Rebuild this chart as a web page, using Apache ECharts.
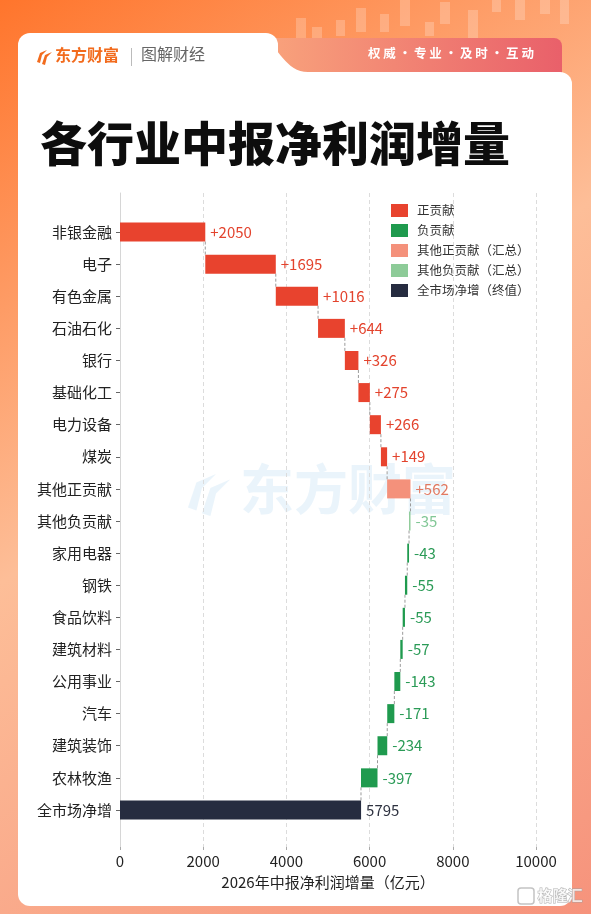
<!DOCTYPE html>
<html>
<head>
<meta charset="utf-8">
<script src="https://cdn.jsdelivr.net/npm/echarts@6/dist/echarts.min.js"></script>
<style>
  html, body { margin: 0; padding: 0; background: #fff; }
  #chart { width: 591px; height: 914px; }
</style>
</head>
<body>
<div id="chart"></div>
<script>
// ---------- data ----------
const categories = ['非银金融','电子','有色金属','石油石化','银行','基础化工','电力设备','煤炭','其他正贡献','其他负贡献','家用电器','钢铁','食品饮料','建筑材料','公用事业','汽车','建筑装饰','农林牧渔','全市场净增'];
const changes = [2050, 1695, 1016, 644, 326, 275, 266, 149, 562, -35, -43, -55, -55, -57, -143, -171, -234, -397];
const totalValue = 5795;
const xTicks = [0, 2000, 4000, 6000, 8000, 10000];
const seriesNames = ['正贡献', '负贡献', '其他正贡献（汇总）', '其他负贡献（汇总）', '全市场净增（终值）'];
const titleText = '各行业中报净利润增量';
const xAxisName = '2026年中报净利润增量（亿元）';

// ---------- build waterfall ----------
const FONT = '"Noto Sans CJK SC", "Noto Sans", sans-serif';
const n = categories.length;
const base = [], pos = [], neg = [], oPos = [], oNeg = [], tot = [], connectors = [];
let cum = 0;
for (let i = 0; i < n; i++) {
  if (i < changes.length) {
    const v = changes[i];
    const before = cum;
    cum += v;
    const isOther = categories[i].indexOf('其他') === 0;
    base.push(v >= 0 ? before : cum);
    pos.push(!isOther && v >= 0 ? v : '-');
    neg.push(!isOther && v < 0 ? -v : '-');
    oPos.push(isOther && v >= 0 ? v : '-');
    oNeg.push(isOther && v < 0 ? -v : '-');
    tot.push('-');
    connectors.push([cum, i]);
  } else {
    base.push(0);
    pos.push('-'); neg.push('-'); oPos.push('-'); oNeg.push('-');
    tot.push(totalValue);
  }
}

const barColors = ['#E8432E', '#1F9A4E', '#F4917B', '#8DCB98', '#262C40'];
const labelColors = ['#E3432D', '#2B9B57', '#E27A62', '#82C796', '#2E3240'];
const seriesData = [pos, neg, oPos, oNeg, tot];

function fmt(p) {
  const i = p.dataIndex;
  if (i >= changes.length) return String(totalValue);
  const v = changes[i];
  return (v > 0 ? '+' : '') + v;
}

const series = [{
  type: 'bar', stack: 'w', data: base, barWidth: 19,
  itemStyle: { color: 'transparent' }, silent: true, z: 20,
  xAxisIndex: 0, yAxisIndex: 0
}];
seriesNames.forEach((name, k) => {
  series.push({
    name, type: 'bar', stack: 'w', data: seriesData[k], barWidth: 19, z: 20,
    xAxisIndex: 0, yAxisIndex: 0,
    itemStyle: { color: barColors[k] },
    label: {
      show: true, position: 'right', distance: 5, formatter: fmt,
      color: labelColors[k], fontSize: 15, fontFamily: FONT,
      textBorderWidth: 0
    }
  });
});
series.push({
  type: 'custom', xAxisIndex: 0, yAxisIndex: 0, data: connectors, z: 19, silent: true,
  encode: { x: 0, y: 1 },
  renderItem: function (params, api) {
    const p1 = api.coord([api.value(0), api.value(1)]);
    const p2 = api.coord([api.value(0), api.value(1) + 1]);
    const half = 9.5;
    return {
      type: 'line',
      shape: { x1: p1[0], y1: p1[1] + half, x2: p2[0], y2: p2[1] - half },
      style: { stroke: '#9a9a9a', lineWidth: 1, lineDash: [3, 2] }
    };
  }
});

// ---------- decorations ----------
function bez(p0, p1, p2, p3, steps) {
  const pts = [];
  for (let s = 0; s <= steps; s++) {
    const t = s / steps, u = 1 - t;
    pts.push([
      u*u*u*p0[0] + 3*u*u*t*p1[0] + 3*u*t*t*p2[0] + t*t*t*p3[0],
      u*u*u*p0[1] + 3*u*u*t*p1[1] + 3*u*t*t*p2[1] + t*t*t*p3[1]
    ]);
  }
  return pts;
}
const tabCurve = [[250, 33]].concat(bez([250, 33], [276, 33], [280, 72], [308, 72], 20)).concat([[308, 90], [250, 90]]);

const candles = [
  [296, 18, 10, 22], [312, 27, 10, 12], [336, 20, 9, 16], [356, 8, 10, 24],
  [380, 14, 9, 18], [400, 0, 10, 26], [425, 22, 9, 14], [440, 2, 10, 22],
  [468, 10, 10, 28], [492, 0, 9, 12], [515, 0, 10, 20], [540, 0, 10, 14], [560, 0, 9, 24]
];
const candleEls = candles.map(c => ({
  type: 'rect', z: -9, silent: true,
  shape: { x: c[0], y: c[1], width: c[2], height: c[3] },
  style: { fill: 'rgba(255,255,255,0.22)' }
}));
function flame(x, y, s, fill, z) {
  return [
    { type: 'polygon', z, silent: true, shape: { points: [[x, y+12*s], [x+3*s, y+3*s], [x+10*s, y], [x+5*s, y+5*s], [x+3*s, y+13*s]] }, style: { fill } },
    { type: 'polygon', z, silent: true, shape: { points: [[x+5*s, y+14*s], [x+8*s, y+5*s], [x+15*s, y+2*s], [x+10*s, y+7*s], [x+8*s, y+15*s]] }, style: { fill } }
  ];
}

const graphic = [
  { type: 'rect', z: -10, silent: true, shape: { x: 0, y: 0, width: 591, height: 914 },
    style: { fill: { type: 'linear', x: 0, y: 0, x2: 1, y2: 1, colorStops: [
      { offset: 0, color: '#FF752C' }, { offset: 0.45, color: '#FDBE98' }, { offset: 1, color: '#F6937C' }] } } },
  ...candleEls,
  { type: 'rect', z: -9, silent: true, shape: { x: 262, y: 38, width: 300, height: 44, r: 8 },
    style: { fill: { type: 'linear', x: 0, y: 0, x2: 1, y2: 0, colorStops: [
      { offset: 0, color: '#F9A47C' }, { offset: 1, color: '#E9606A' }] } } },
  { type: 'rect', z: -8, silent: true, shape: { x: 18, y: 33, width: 260, height: 80, r: [12, 12, 0, 0] }, style: { fill: '#ffffff' } },
  { type: 'polygon', z: -8, silent: true, shape: { points: tabCurve }, style: { fill: '#ffffff' } },
  { type: 'rect', z: -8, silent: true, shape: { x: 18, y: 72, width: 554, height: 834, r: 12 }, style: { fill: '#ffffff' } },
  { type: 'text', z: -7, silent: true, left: 368, top: 47,
    style: { text: '权 威 · 专 业 · 及 时 · 互 动', fill: '#ffffff', font: 'bold 12.5px ' + FONT } },
  // logo
  ...flame(37, 50, 1, '#F26B1D', -7),
  { type: 'text', z: -7, silent: true, left: 55, top: 47,
    style: { text: '东方财富', fill: '#F26B1D', font: 'bold 16px ' + FONT } },
  { type: 'rect', z: -7, silent: true, shape: { x: 131, y: 48, width: 1, height: 18 }, style: { fill: '#bbbbbb' } },
  { type: 'text', z: -7, silent: true, left: 141, top: 46,
    style: { text: '图解财经', fill: '#666666', font: '16px ' + FONT } },
  // title
  { type: 'text', z: -7, silent: true, left: 40, top: 120,
    style: { text: titleText, fill: '#0d0d0d', font: '900 47px ' + FONT } },
  // watermark
  ...flame(188, 474, 2.8, 'rgba(214,233,248,0.5)', -7),
  { type: 'text', z: -7, silent: true, left: 240, top: 462,
    style: { text: '东方财富', fill: 'rgba(214,233,248,0.5)', font: 'bold 54px ' + FONT } },
  // corner watermark
  { type: 'rect', z: 30, silent: true, shape: { x: 518, y: 888, width: 16, height: 16, r: 3 },
    style: { fill: 'none', stroke: 'rgba(170,170,170,0.7)', lineWidth: 1.5 } },
  { type: 'text', z: 30, silent: true, left: 537, top: 887,
    style: { text: '格隆汇', fill: 'rgba(255,255,255,0.75)', stroke: 'rgba(160,160,160,0.8)', lineWidth: 1, font: 'bold 15px ' + FONT } }
];

const option = {
  animation: false,
  backgroundColor: '#ffffff',
  textStyle: { fontFamily: FONT },
  graphic: { elements: graphic },
  legend: {
    data: seriesNames, orient: 'vertical', left: 391, top: 204, padding: 0,
    itemWidth: 17, itemHeight: 13, itemGap: 7, icon: 'rect',
    textStyle: { fontSize: 12.5, color: '#333', fontFamily: FONT, padding: [0, 0, 0, 4] }
  },
  grid: [
    { left: 120, right: 55, top: 216, height: 610 },
    { left: 120, right: 55, top: 193, bottom: 67 }
  ],
  xAxis: [
    { gridIndex: 0, type: 'value', min: xTicks[0], max: xTicks[xTicks.length - 1], interval: xTicks[1] - xTicks[0],
      axisLine: { show: false }, axisTick: { show: false }, axisLabel: { show: false }, splitLine: { show: false } },
    { gridIndex: 1, type: 'value', min: xTicks[0], max: xTicks[xTicks.length - 1], interval: xTicks[1] - xTicks[0],
      axisLine: { show: false },
      axisTick: { show: true, length: 3, lineStyle: { color: '#aaa' } },
      axisLabel: { fontSize: 15, color: '#222', margin: 7, fontFamily: FONT, formatter: v => String(v) },
      splitLine: { show: true, lineStyle: { color: '#dcdcdc', type: [4, 3], width: 1 } },
      name: xAxisName, nameLocation: 'middle', nameGap: 28,
      nameTextStyle: { fontSize: 15, color: '#222', fontFamily: FONT } }
  ],
  yAxis: [
    { gridIndex: 0, type: 'category', inverse: true, data: categories,
      axisLine: { show: false },
      axisTick: { show: true, alignWithLabel: true, length: 4, lineStyle: { color: '#666' } },
      axisLabel: { fontSize: 15, color: '#222', margin: 8, fontFamily: FONT },
      splitLine: { show: false } },
    { gridIndex: 1, type: 'value', min: 0, max: 1,
      axisLine: { show: true, lineStyle: { color: '#d6d6d6' } },
      axisTick: { show: false }, axisLabel: { show: false }, splitLine: { show: false } }
  ],
  series: series
};

const chart = echarts.init(document.getElementById('chart'), null, { renderer: 'canvas' });
chart.setOption(option);
</script>
</body>
</html>
